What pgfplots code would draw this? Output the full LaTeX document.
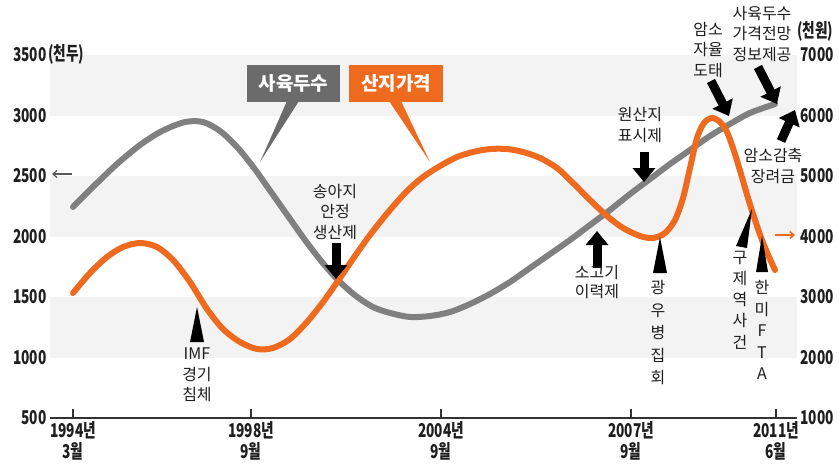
\documentclass[border=0pt]{standalone}
\usepackage{pgfplots}
\usepackage{pgfplotstable}
\pgfplotsset{compat=1.18}
\usetikzlibrary{arrows.meta}
\usepackage{fontspec}
\setmainfont{Noto Sans CJK KR}
\newfontfamily\tickfont[FakeStretch=0.72]{Noto Sans CJK KR}
\definecolor{graycurve}{HTML}{808080}
\definecolor{orangecurve}{HTML}{EE6A1E}
\definecolor{graybox}{HTML}{6B6B6B}
\definecolor{orangebox}{HTML}{EE6A1E}
\definecolor{band}{HTML}{F3F3F3}
\definecolor{txt}{HTML}{1E1E1E}
\newcommand{\tf}{\tickfont\bfseries\fontsize{19}{21}\selectfont}
\newcommand{\af}{\fontsize{16}{20.5}\selectfont}

% 사육두수 (천두), x = position along the time axis
\pgfplotstableread{
x v
73 2244
95 2426
117 2599
140 2756
162 2872
185 2946
203 2946
220 2872
237 2740
254 2566
271 2368
288 2169
305 1971
322 1789
339 1632
356 1508
373 1417
390 1368
410 1335
430 1343
450 1376
470 1442
490 1525
510 1624
530 1740
550 1855
570 1971
590 2095
610 2219
630 2351
650 2475
670 2599
690 2715
710 2831
730 2930
750 3021
775 3095
}\sheep

% 산지가격 (천원)
\pgfplotstableread{
x p
73 3066
90 3397
107 3661
123 3826
140 3893
157 3826
173 3612
190 3248
207 2802
223 2471
240 2256
257 2141
273 2157
290 2306
307 2587
323 2917
340 3314
357 3727
373 4091
390 4438
407 4752
423 4983
440 5165
457 5314
473 5397
490 5446
507 5446
523 5397
540 5298
557 5132
573 4884
590 4603
607 4339
623 4141
640 4008
653 3975
665 4058
675 4273
683 4636
690 5132
697 5628
704 5876
712 5959
720 5893
727 5727
734 5413
741 5033
748 4636
755 4273
762 3942
769 3661
775 3446
}\price

\begin{document}
\begin{tikzpicture}
\begin{axis}[
  scale only axis, width=747pt, height=363pt,
  xmin=50, xmax=797, ymin=500, ymax=3500,
  axis x line*=bottom, axis y line*=left,
  y axis line style={draw=none},
  x axis line style={draw=black!80, line width=1.6pt, -},
  xtick={73,251,441,631,776},
  xticklabels={1994년\\3월,1998년\\9월,2004년\\9월,2007년\\9월,2011년\\6월},
  xticklabel style={font=\tf, align=center, text=txt},
  xtick style={draw=black!80, line width=1.4pt},
  tick align=inside, major tick length=9pt,
  ytick={500,1000,1500,2000,2500,3000,3500},
  yticklabels={500,1000,1500,2000,2500,3000,3500},
  ytick style={draw=none},
  yticklabel style={font=\tf, text=txt},
  clip=false,
]
\fill[band] (axis cs:50,3000) rectangle (axis cs:797,3500);
\fill[band] (axis cs:50,2000) rectangle (axis cs:797,2500);
\fill[band] (axis cs:50,1000) rectangle (axis cs:797,1500);
\addplot[graycurve, line width=6pt, smooth, line cap=round] table[x=x,y=v] {\sheep};
\end{axis}
\begin{axis}[
  scale only axis, width=747pt, height=363pt,
  xmin=50, xmax=797, ymin=1000, ymax=7000,
  axis x line=none, axis y line*=right,
  y axis line style={draw=none},
  ytick={1000,2000,3000,4000,5000,6000,7000},
  yticklabels={1000,2000,3000,4000,5000,6000,7000},
  ytick style={draw=none},
  yticklabel style={font=\tf, text=txt},
  clip=false,
]
\addplot[orangecurve, line width=6pt, smooth, line cap=round] table[x=x,y=p] {\price};
\end{axis}

\begin{scope}[x=1pt, y=-1pt, shift={(-50pt,418pt)}]
% callout boxes
\fill[graybox] (247,65) rectangle (340,102);
\fill[graybox] (287,101) -- (299,101) -- (260,162) -- cycle;
\node[text=white, font=\bfseries\fontsize{19}{19}\selectfont] at (293.5,83.5) {사육두수};
\fill[orangebox] (349,65) rectangle (443,102);
\fill[orangebox] (389,101) -- (401,101) -- (430,162) -- cycle;
\node[text=white, font=\bfseries\fontsize{19}{19}\selectfont] at (396,83.5) {산지가격};
% units and side arrows
\node[anchor=west, font=\tf, text=txt, inner sep=0pt] at (48,54) {(천두)};
\node[anchor=west, font=\tf, text=txt, inner sep=0pt] at (797,31) {(천원)};
\draw[graycurve!70!black, line width=1.3pt, -{Straight Barb[length=4pt,width=7pt]}] (72,174) -- (52,174);
\draw[orangecurve, line width=1.6pt, -{Straight Barb[length=4pt,width=7pt]}] (775,235) -- (795,235);
% fat arrows
\tikzset{fat/.style={black, line width=9pt, -{Triangle[width=22pt,length=14pt]}}}
\draw[fat] (336,243) -- (336,279);
\draw[fat] (644,152) -- (644,182);
\draw[fat] (597,268) -- (597,231);
\draw[fat] (711,81) -- (729,116);
\draw[fat] (758,67) -- (777,104);
\draw[fat] (781,141) -- (795,110);
% wedges
\fill[black] (197,307) -- (190,342) -- (204,342) -- cycle;
\fill[black] (660,237) -- (653,273) -- (667,273) -- cycle;
\fill[black] (762,236) -- (756,272) -- (768,272) -- cycle;
\fill[black] (752,209) -- (736,246) -- (747,248) -- cycle;
% annotation texts
\tikzset{ann/.style={align=center, text=txt, font=\af, inner sep=0pt}}
\node[ann] at (335,212) {송아지\\안정\\생산제};
\node[ann] at (197,375) {IMF\\경기\\침체};
\node[ann] at (640,125) {원산지\\표시제};
\node[ann] at (708,50) {암소\\자율\\도태};
\node[ann] at (762,34) {사육두수\\가격전망\\정보제공};
\node[ann] at (773,166) {암소감축\\장려금};
\node[ann, font=\fontsize{16}{19.5}\selectfont] at (597,282) {소고기\\이력제};
\node[ann, font=\fontsize{16}{22.5}\selectfont] at (658,333) {광\\우\\병\\집\\회};
\node[ann, font=\fontsize{16}{21.3}\selectfont] at (740,300) {구\\제\\역\\사\\건};
\node[ann, font=\fontsize{16}{21.5}\selectfont] at (762,330) {한\\미\\F\\T\\A};
\pgfresetboundingbox
\useasboundingbox (0,0) rectangle (839,467);
\end{scope}
\end{tikzpicture}
\end{document}
